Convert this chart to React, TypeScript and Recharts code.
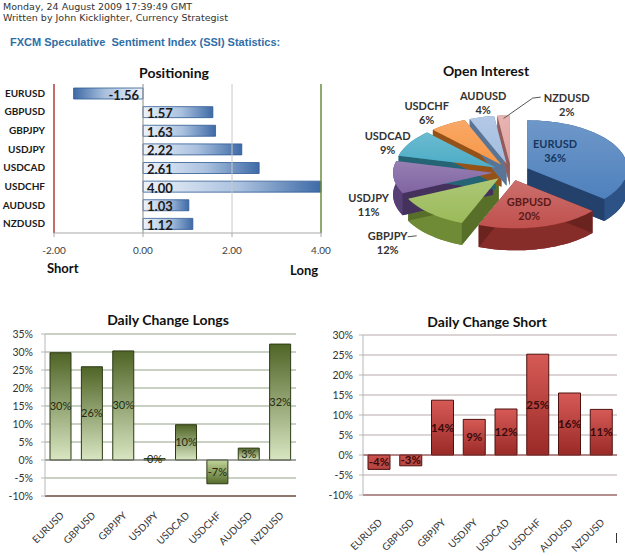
import React from 'react';
import {
  BarChart, Bar, XAxis, YAxis, CartesianGrid, ReferenceLine, LabelList, Cell, PieChart, Pie,
} from 'recharts';

// ---------- data ----------
const pairs = ['EURUSD', 'GBPUSD', 'GBPJPY', 'USDJPY', 'USDCAD', 'USDCHF', 'AUDUSD', 'NZDUSD'];
const positioning = [-1.56, 1.57, 1.63, 2.22, 2.61, 4.0, 1.03, 1.12];
const positioningTicks = [-2, 0, 2, 4];
const openInterest = [36, 20, 12, 11, 9, 6, 4, 2];
const dailyLongs = [29.8, 25.9, 30.3, 0.4, 9.8, -6.6, 3.3, 32.2];
const dailyShorts = [-3.6, -2.7, 13.7, 8.9, 11.5, 25.2, 15.5, 11.4];
const longTicks = [-10, -5, 0, 5, 10, 15, 20, 25, 30, 35];
const shortTicks = [-10, -5, 0, 5, 10, 15, 20, 25, 30];

const posData = pairs.map((name, i) => ({ name, value: positioning[i] }));
const pieData = pairs.map((name, i) => ({ name, value: openInterest[i] }));
const longData = pairs.map((name, i) => ({ name, value: dailyLongs[i] }));
const shortData = pairs.map((name, i) => ({ name, value: dailyShorts[i] }));

// ---------- styles ----------
const FONT = 'Lato, "Open Sans", sans-serif';
const pieTop = ['#4f81bd', '#c0504d', '#9bbb59', '#8064a2', '#4bacc6', '#f79646', '#a3bde0', '#e2a3a1'];
const pieSide = ['#2d5286', '#862c29', '#6f8b35', '#553f75', '#2e7d91', '#b9661f', '#7191bb', '#b57573'];
const pieLabelColor = ['#17375e', '#5c1a18', '#333', '#333', '#333', '#333', '#333', '#333'];
// [radius factor, dx, dy] for label placement
const pieLabelPlace: Record<string, number[]> = {
  EURUSD: [0.55, -22, -7], GBPUSD: [0.55, 0, 3], GBPJPY: [1.3, -22, -3], USDJPY: [1.3, 5, 4],
  USDCAD: [1.3, 4, 7], USDCHF: [1.3, -5, 0], AUDUSD: [1.3, 9, -1], NZDUSD: [1.3, 65, 3],
};

const PIE_CX = 176;
const PIE_CY = 112;
const PIE_R = 100;
const TILT = 0.48;
const DEPTH = 22;
const EXPLODE = 18;
const RAD = Math.PI / 180;

function pieFrame(p: any) {
  const rx = p.outerRadius;
  const ry = p.outerRadius * TILT;
  const m = p.midAngle * RAD;
  const ox = p.cx + EXPLODE * Math.cos(m);
  const oy = p.cy - EXPLODE * TILT * Math.sin(m);
  const n = Math.max(4, Math.ceil(Math.abs(p.startAngle - p.endAngle) / 3));
  const pts: number[][] = [];
  for (let i = 0; i <= n; i++) {
    const a = (p.startAngle + ((p.endAngle - p.startAngle) * i) / n) * RAD;
    pts.push([ox + rx * Math.cos(a), oy - ry * Math.sin(a)]);
  }
  return { ox, oy, rx, ry, pts };
}
const poly = (pts: number[][]) => 'M' + pts.map((q) => q[0].toFixed(2) + ',' + q[1].toFixed(2)).join('L') + 'Z';

const renderPieSide = (p: any) => {
  const { ox, oy, pts } = pieFrame(p);
  const down = (q: number[]) => [q[0], q[1] + DEPTH];
  const col = pieSide[p.index];
  const bottom = [[ox, oy], ...pts].map(down);
  const band = [...pts, ...pts.slice().reverse().map(down)];
  const s = pts[0];
  const e = pts[pts.length - 1];
  const faceA = [[ox, oy], s, down(s), [ox, oy + DEPTH]];
  const faceB = [[ox, oy], e, down(e), [ox, oy + DEPTH]];
  return (
    <g key={'side' + p.index}>
      <path d={poly(bottom)} fill={col} />
      <path d={poly(band)} fill={col} />
      <path d={poly(faceA)} fill={col} />
      <path d={poly(faceA)} fill="#000" fillOpacity={0.2} />
      <path d={poly(faceB)} fill={col} />
      <path d={poly(faceB)} fill="#000" fillOpacity={0.2} />
    </g>
  );
};

const renderPieTop = (p: any) => {
  const { ox, oy, pts } = pieFrame(p);
  const d = poly([[ox, oy], ...pts]);
  return (
    <g key={'top' + p.index}>
      <path d={d} fill={pieTop[p.index]} />
      <path d={d} fill="url(#pieSheen)" />
    </g>
  );
};

const renderPieText = (p: any) => {
  const name = pairs[p.index];
  const [f, dx, dy] = pieLabelPlace[name];
  const { ox, oy, rx, ry } = pieFrame(p);
  const m = p.midAngle * RAD;
  const below = Math.sin(m) < 0 && f > 1 ? DEPTH : 0;
  const x = ox + f * rx * Math.cos(m) + dx;
  const y = oy - f * ry * Math.sin(m) + below + dy;
  let leader = null;
  if (name === 'NZDUSD') {
    const ex = ox + rx * Math.cos(m);
    const ey = oy - ry * Math.sin(m) + 3;
    leader = <polyline points={`${x - 26},${y - 7} ${x - 34},${y - 6} ${ex},${ey}`} fill="none" stroke="#555" strokeWidth={1} />;
  }
  if (name === 'GBPJPY') {
    leader = <polyline points={`${x + 20},${y - 6} ${x + 29},${y - 7}`} fill="none" stroke="#555" strokeWidth={1} />;
  }
  return (
    <g key={'txt' + p.index}>
      {leader}
      <text x={x} y={y - 7} textAnchor="middle" dominantBaseline="central" fontFamily={FONT} fontWeight={700} fontSize={11} fill={pieLabelColor[p.index]}>
        {name}
      </text>
      <text x={x} y={y + 7} textAnchor="middle" dominantBaseline="central" fontFamily={FONT} fontWeight={700} fontSize={11} fill={pieLabelColor[p.index]}>
        {`${openInterest[p.index]}%`}
      </text>
    </g>
  );
};

const PosLabel = (props: any) => {
  const { x, y, width, height, value } = props;
  const x0 = Number(x);
  const w = Number(width);
  const left = Math.min(x0, x0 + w);
  const right = Math.max(x0, x0 + w);
  const neg = Number(value) < 0;
  return (
    <text x={neg ? right - 4 : left + 4} y={Number(y) + Number(height) / 2 + 1} dominantBaseline="central"
      textAnchor={neg ? 'end' : 'start'} fontFamily={FONT} fontWeight={700} fontSize={13} fill="#1a1a1a">
      {Number(value).toFixed(2)}
    </text>
  );
};

const makeRotTick = (dy: number) => (props: any) => {
  const { x, y, payload } = props;
  const ax = x + 4;
  const ay = y + dy;
  return (
    <text x={ax} y={ay} transform={`rotate(-45 ${ax} ${ay})`} textAnchor="end" fontFamily={FONT} fontSize={10} fill="#333">
      {payload.value}
    </text>
  );
};

const Title = ({ cx, cy, text, size = 14 }: any) => (
  <div style={{ position: 'absolute', left: cx - 100, width: 200, top: cy - 10, height: 20, lineHeight: '20px', textAlign: 'center', fontFamily: FONT, fontWeight: 700, fontSize: size, color: '#111' }}>
    {text}
  </div>
);

const pct = (v: any) => `${Math.round(Number(v))}%`;

export default function App() {
  return (
    <div style={{ position: 'absolute', left: 0, top: 0, width: 625, height: 556, background: '#fff', overflow: 'hidden' }}>
      <div style={{ position: 'absolute', left: 3, top: 1, fontFamily: '"DejaVu Sans", Verdana, sans-serif', fontSize: 9.5, lineHeight: '11px', color: '#333' }}>
        <div>Monday, 24 August 2009 17:39:49 GMT</div>
        <div>Written by John Kicklighter, Currency Strategist</div>
      </div>
      <div style={{ position: 'absolute', left: 10, top: 36, fontFamily: '"Liberation Sans", Arial, sans-serif', fontWeight: 700, fontSize: 11, color: '#2f6ea8', whiteSpace: 'pre' }}>
        {'FXCM Speculative  Sentiment Index (SSI) Statistics:'}
      </div>

      {/* Positioning */}
      <Title cx={174} cy={73} text="Positioning" />
      <div style={{ position: 'absolute', left: 0, top: 60 }}>
        <BarChart layout="vertical" width={340} height={220} data={posData} margin={{ top: 24, right: 19, left: 0, bottom: 27 }}>
          <defs>
            <linearGradient id="posBlue" x1="0" y1="0" x2="1" y2="0">
              <stop offset="0" stopColor="#eef3fa" />
              <stop offset="0.55" stopColor="#a9c0de" />
              <stop offset="1" stopColor="#3e6aa6" />
            </linearGradient>
            <linearGradient id="negBlue" x1="1" y1="0" x2="0" y2="0">
              <stop offset="0" stopColor="#eef3fa" />
              <stop offset="0.55" stopColor="#a9c0de" />
              <stop offset="1" stopColor="#3e6aa6" />
            </linearGradient>
          </defs>
          <XAxis type="number" domain={[-2, 4]} ticks={positioningTicks} tickFormatter={(v: number) => v.toFixed(2)}
            axisLine={{ stroke: '#a8a8a8' }} tickLine={{ stroke: '#a8a8a8' }} tickSize={4} tickMargin={10} height={20}
            tick={{ fontFamily: FONT, fontSize: 10, fill: '#404040' }} />
          <YAxis type="category" dataKey="name" width={54} axisLine={false} tickLine={false} tickSize={0} tickMargin={9}
            tick={{ fontFamily: FONT, fontSize: 10, fontWeight: 700, fill: '#1a1a1a' }} />
          <ReferenceLine x={2} stroke="#c8c8c8" />
          <ReferenceLine x={0} stroke="#8a8a8a" />
          <ReferenceLine x={-2} stroke="#b03c3c" strokeWidth={1.5} />
          <ReferenceLine x={4} stroke="#6b8e3a" strokeWidth={1.5} />
          <Bar dataKey="value" barSize={11} stroke="#2f5a94" strokeWidth={0.8} isAnimationActive={false}>
            {posData.map((d, i) => (
              <Cell key={i} fill={d.value < 0 ? 'url(#negBlue)' : 'url(#posBlue)'} />
            ))}
            <LabelList dataKey="value" content={PosLabel} />
          </Bar>
        </BarChart>
      </div>
      <div style={{ position: 'absolute', left: 47, top: 260, fontFamily: FONT, fontWeight: 700, fontSize: 13, color: '#111' }}>Short</div>
      <div style={{ position: 'absolute', left: 290, top: 262, fontFamily: FONT, fontWeight: 700, fontSize: 13, color: '#111' }}>Long</div>

      {/* Open Interest */}
      <Title cx={486} cy={71} text="Open Interest" />
      <div style={{ position: 'absolute', left: 330, top: 55 }}>
        <PieChart width={295} height={230}>
          <defs>
            <linearGradient id="pieSheen" x1="0" y1="0" x2="0" y2="1">
              <stop offset="0" stopColor="#fff" stopOpacity={0.18} />
              <stop offset="1" stopColor="#fff" stopOpacity={0} />
            </linearGradient>
          </defs>
          <Pie data={pieData} dataKey="value" nameKey="name" cx={PIE_CX} cy={PIE_CY} outerRadius={PIE_R} startAngle={90} endAngle={-270}
            fill="transparent" stroke="none" label={renderPieSide} labelLine={false} isAnimationActive={false} />
          <Pie data={pieData} dataKey="value" nameKey="name" cx={PIE_CX} cy={PIE_CY} outerRadius={PIE_R} startAngle={90} endAngle={-270}
            fill="transparent" stroke="none" label={renderPieTop} labelLine={false} isAnimationActive={false} />
          <Pie data={pieData} dataKey="value" nameKey="name" cx={PIE_CX} cy={PIE_CY} outerRadius={PIE_R} startAngle={90} endAngle={-270}
            fill="transparent" stroke="none" label={renderPieText} labelLine={false} isAnimationActive={false} />
        </PieChart>
      </div>

      {/* Daily Change Longs */}
      <Title cx={168} cy={320} text="Daily Change Longs" />
      <div style={{ position: 'absolute', left: 0, top: 300 }}>
        <BarChart width={310} height={256} data={longData} margin={{ top: 34, right: 14, left: 0, bottom: 5 }}>
          <defs>
            <linearGradient id="longPos" x1="0" y1="0" x2="0" y2="1">
              <stop offset="0" stopColor="#4f6426" />
              <stop offset="1" stopColor="#d9e6c2" />
            </linearGradient>
            <linearGradient id="longNeg" x1="0" y1="0" x2="0" y2="1">
              <stop offset="0" stopColor="#c2d49a" />
              <stop offset="1" stopColor="#566c2c" />
            </linearGradient>
          </defs>
          <CartesianGrid vertical={false} stroke="#93a386" />
          <XAxis dataKey="name" height={55} interval={0} axisLine={{ stroke: '#5b1c1c', strokeWidth: 1.2 }} tickLine={false}
            tick={makeRotTick(12)} />
          <YAxis domain={[-10, 35]} ticks={longTicks} width={45} interval={0} tickFormatter={(v: number) => `${v}%`}
            axisLine={{ stroke: '#b8b8b8' }} tickLine={{ stroke: '#b8b8b8' }} tickSize={4} tickMargin={8}
            tick={{ fontFamily: FONT, fontSize: 10.5, fill: '#333' }} />
          <ReferenceLine y={0} stroke="#7a7a7a" />
          <Bar dataKey="value" barSize={21} stroke="#2d3a14" strokeWidth={1} isAnimationActive={false}>
            {longData.map((d, i) => (
              <Cell key={i} fill={d.value < 0 ? 'url(#longNeg)' : 'url(#longPos)'} />
            ))}
            <LabelList dataKey="value" position="center" formatter={pct} fill="#1f2a10" fontFamily={FONT} fontSize={11} />
          </Bar>
        </BarChart>
      </div>

      {/* Daily Change Short */}
      <Title cx={487} cy={322} text="Daily Change Short" />
      <div style={{ position: 'absolute', left: 310, top: 300 }}>
        <BarChart width={315} height={256} data={shortData} margin={{ top: 35, right: 8, left: 0, bottom: 3 }}>
          <defs>
            <linearGradient id="shortPos" x1="0" y1="0" x2="0" y2="1">
              <stop offset="0" stopColor="#d65a56" />
              <stop offset="1" stopColor="#9a2a27" />
            </linearGradient>
            <linearGradient id="shortNeg" x1="0" y1="0" x2="0" y2="1">
              <stop offset="0" stopColor="#cc524e" />
              <stop offset="1" stopColor="#b34340" />
            </linearGradient>
          </defs>
          <CartesianGrid vertical={false} stroke="#b9aaaa" />
          <XAxis dataKey="name" height={58} interval={0} axisLine={{ stroke: '#8b4a4a', strokeWidth: 1.2 }} tickLine={false}
            tick={makeRotTick(20)} />
          <YAxis domain={[-10, 30]} ticks={shortTicks} width={53} interval={0} tickFormatter={(v: number) => `${v}%`}
            axisLine={{ stroke: '#b8b8b8' }} tickLine={{ stroke: '#b8b8b8' }} tickSize={4} tickMargin={6}
            tick={{ fontFamily: FONT, fontSize: 10.5, fill: '#333' }} />
          <ReferenceLine y={0} stroke="#8b3a3a" />
          <Bar dataKey="value" barSize={22} stroke="#4f1010" strokeWidth={1} isAnimationActive={false}>
            {shortData.map((d, i) => (
              <Cell key={i} fill={d.value < 0 ? 'url(#shortNeg)' : 'url(#shortPos)'} />
            ))}
            <LabelList dataKey="value" position="center" formatter={pct} fill="#3a0a0a" fontFamily={FONT} fontWeight={700} fontSize={11.5} />
          </Bar>
        </BarChart>
      </div>
      <div style={{ position: 'absolute', left: 616, top: 533, width: 1, height: 10, background: '#333' }} />
    </div>
  );
}
